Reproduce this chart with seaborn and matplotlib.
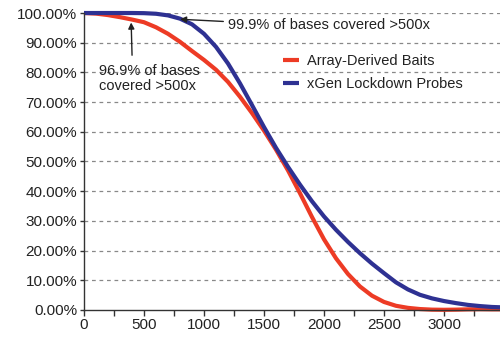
import matplotlib
matplotlib.use("Agg")
import matplotlib.pyplot as plt
import matplotlib.ticker as mticker
from matplotlib.lines import Line2D
import pandas as pd
import seaborn as sns

depth = [0, 100, 200, 300, 400, 500, 600, 700, 800, 900, 1000, 1100, 1200, 1300,
         1400, 1500, 1600, 1700, 1800, 1900, 2000, 2100, 2200, 2300, 2400, 2500,
         2600, 2700, 2800, 2900, 3000, 3100, 3200, 3300, 3400, 3467]
array_baits = [100, 99.8, 99.3, 98.6, 97.8, 96.9, 95.2, 93.0, 90.3, 87.2, 84.2, 80.9,
               76.8, 71.8, 66.3, 60.4, 54.0, 47.0, 39.3, 31.3, 23.8, 17.4, 12.1, 7.9,
               4.8, 2.7, 1.4, 0.7, 0.3, 0.1, 0.05, 0.1, 0.2, 0.25, 0.2, 0.2]
xgen_probes = [100, 100, 100, 100, 100, 99.95, 99.75, 99.2, 98.1, 96.2, 93.0, 88.6,
               83.0, 76.3, 69.0, 61.6, 54.6, 48.2, 42.2, 36.6, 31.5, 27.0, 22.9,
               19.1, 15.6, 12.4, 9.3, 6.9, 5.1, 3.9, 3.0, 2.3, 1.7, 1.3, 1.0, 0.9]
series_names = ["Array-Derived Baits", "xGen Lockdown Probes"]
y_ticks = [0, 10, 20, 30, 40, 50, 60, 70, 80, 90, 100]
x_ticks = [0, 500, 1000, 1500, 2000, 2500, 3000]

df = pd.DataFrame({
    "depth": depth * 2,
    "pct": array_baits + xgen_probes,
    "series": [series_names[0]] * len(depth) + [series_names[1]] * len(depth),
})

sns.set_style("white")
plt.rcParams["font.family"] = ["Liberation Sans", "DejaVu Sans"]

fig = plt.figure(figsize=(5.0, 3.38), dpi=100)
ax = fig.add_axes([0.168, 0.083, 0.832, 0.8785])

palette = {series_names[0]: "#ED3B25", series_names[1]: "#2E3192"}
sns.lineplot(data=df, x="depth", y="pct", hue="series", palette=palette,
             linewidth=3.0, ax=ax, legend=False, clip_on=False)
for ln in ax.lines:
    ln.set_solid_capstyle("butt")
    ln.set_solid_joinstyle("round")

ax.set_xlim(0, 3467)
ax.set_ylim(0, 100)
ax.set_xlabel("")
ax.set_ylabel("")

ax.set_yticks(y_ticks)
ax.set_yticklabels([f"{v:.2f}%" for v in y_ticks], fontsize=11, color="#222222")
ax.set_xticks(x_ticks)
ax.set_xticklabels([str(v) for v in x_ticks], fontsize=11, color="#222222")
ax.xaxis.set_minor_locator(mticker.MultipleLocator(250))
ax.tick_params(axis="x", which="both", direction="out", length=4, width=1,
               color="#333333", bottom=True, pad=2)
ax.tick_params(axis="y", which="major", direction="out", length=3, width=1,
               color="#333333", left=True, pad=2)

for y in y_ticks[1:]:
    ax.axhline(y, color="#888888", linewidth=0.9, linestyle=(0, (3, 3)), zorder=0)

for s in ["top", "right"]:
    ax.spines[s].set_visible(False)
for s in ["left", "bottom"]:
    ax.spines[s].set_color("#333333")
    ax.spines[s].set_linewidth(1.0)

ax.annotate("99.9% of bases covered >500x", xy=(800, 97.9), xytext=(1200, 95.9),
            fontsize=10.5, color="#222222", va="center", ha="left",
            arrowprops=dict(arrowstyle="-|>", color="#222222", lw=1.0,
                            mutation_scale=9, shrinkA=1, shrinkB=0,
                            relpos=(0.0, 0.75)))
ax.annotate("96.9% of bases\ncovered >500x", xy=(393, 96.8), xytext=(125, 78.0),
            fontsize=10.5, color="#222222", va="center", ha="left",
            linespacing=1.05,
            arrowprops=dict(arrowstyle="-|>", color="#222222", lw=1.0,
                            mutation_scale=9, shrinkA=4, shrinkB=0,
                            relpos=(0.33, 1.0)))

handles = [Line2D([0], [0], color=palette[n], lw=3.0, solid_capstyle="butt") for n in series_names]
leg = fig.legend(handles, series_names, loc="upper left", bbox_to_anchor=(0.555, 0.858),
                 frameon=False, fontsize=10.5, handlelength=1.1, handletextpad=0.5,
                 labelspacing=0.65, borderaxespad=0)
for t in leg.get_texts():
    t.set_color("#222222")

fig.savefig("out.png", dpi=100)
